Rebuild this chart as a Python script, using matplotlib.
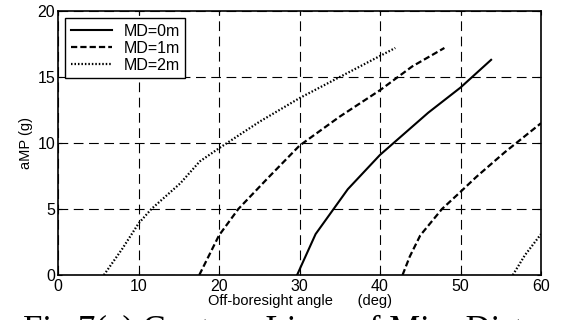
import numpy as np
import matplotlib
matplotlib.use("Agg")
import matplotlib.pyplot as plt

# contour data (deg, g)
md0_x = [29.7, 32.0, 36.0, 40.0, 46.0, 50.0, 53.8]
md0_y = [0.0, 3.1, 6.5, 9.1, 12.3, 14.2, 16.3]

md1_x = [17.55, 20.0, 22.4, 26.0, 30.0, 35.0, 40.0, 44.0, 48.0]
md1_y = [0.0, 3.0, 5.0, 7.3, 9.8, 12.0, 14.0, 15.8, 17.2]
md1b_x = [42.8, 43.7, 45.0, 47.7, 50.0, 52.0, 55.5, 60.0]
md1b_y = [0.0, 1.4, 3.0, 5.0, 6.3, 7.45, 9.3, 11.5]

md2_x = [5.7, 8.0, 10.0, 11.6, 15.2, 17.6, 20.0, 25.0, 30.0, 35.0, 41.9]
md2_y = [0.0, 2.0, 3.9, 5.0, 6.95, 8.6, 9.6, 11.6, 13.4, 15.0, 17.2]
md2b_x = [56.5, 58.0, 60.0]
md2b_y = [0.0, 1.5, 3.1]

x_ticks = [0, 10, 20, 30, 40, 50, 60]
y_ticks = [0, 5, 10, 15, 20]

plt.rcParams['font.family'] = ['Liberation Sans', 'DejaVu Sans']
plt.rcParams['lines.scale_dashes'] = False

fig = plt.figure(figsize=(5.67, 3.2), dpi=100)
ax = fig.add_axes([58/567, 1-275/320, (541-58)/567, (275-11)/320])

dash = (0, (4.5, 2.2))
dots = (0, (1.1, 1.4))
ax.plot(md0_x, md0_y, color='black', lw=1.5, ls='-', label='MD=0m')
ax.plot(md1_x, md1_y, color='black', lw=1.6, ls=dash, label='MD=1m')
ax.plot(md2_x, md2_y, color='black', lw=1.6, ls=dots, label='MD=2m')
ax.plot(md1b_x, md1b_y, color='black', lw=1.6, ls=dash)
ax.plot(md2b_x, md2b_y, color='black', lw=1.6, ls=dots)

ax.set_xlim(0, 60)
ax.set_ylim(0, 20)
ax.set_xticks(x_ticks)
ax.set_yticks(y_ticks)
ax.grid(True, color='black', lw=0.8, ls=(0, (7, 4)))
ax.tick_params(direction='in', top=True, right=True, length=3,
               labelsize=11.5)
ax.tick_params(axis='x', pad=3)
ax.tick_params(axis='y', pad=2)
for s in ax.spines.values():
    s.set_linewidth(1.2)

ax.set_xlabel('Off-boresight angle      (deg)', fontsize=10.5, labelpad=0)
ax.set_ylabel('aMP (g)', fontsize=10.5, labelpad=3)

leg = ax.legend(loc='upper left', fontsize=11.5, fancybox=False, framealpha=1,
                edgecolor='black', handlelength=2.6, borderpad=0.35,
                labelspacing=0.12, handletextpad=0.7, borderaxespad=0.45)
leg.get_frame().set_linewidth(1.0)

# caption sits partly below the bottom edge, as in the source scan
fig.text(23/567, 1-340/320, 'Fig.7(a) Contour Lines of Miss Distance',
         family=['Liberation Serif'], fontsize=25, va='baseline', ha='left')

fig.savefig('out.png', dpi=100)
